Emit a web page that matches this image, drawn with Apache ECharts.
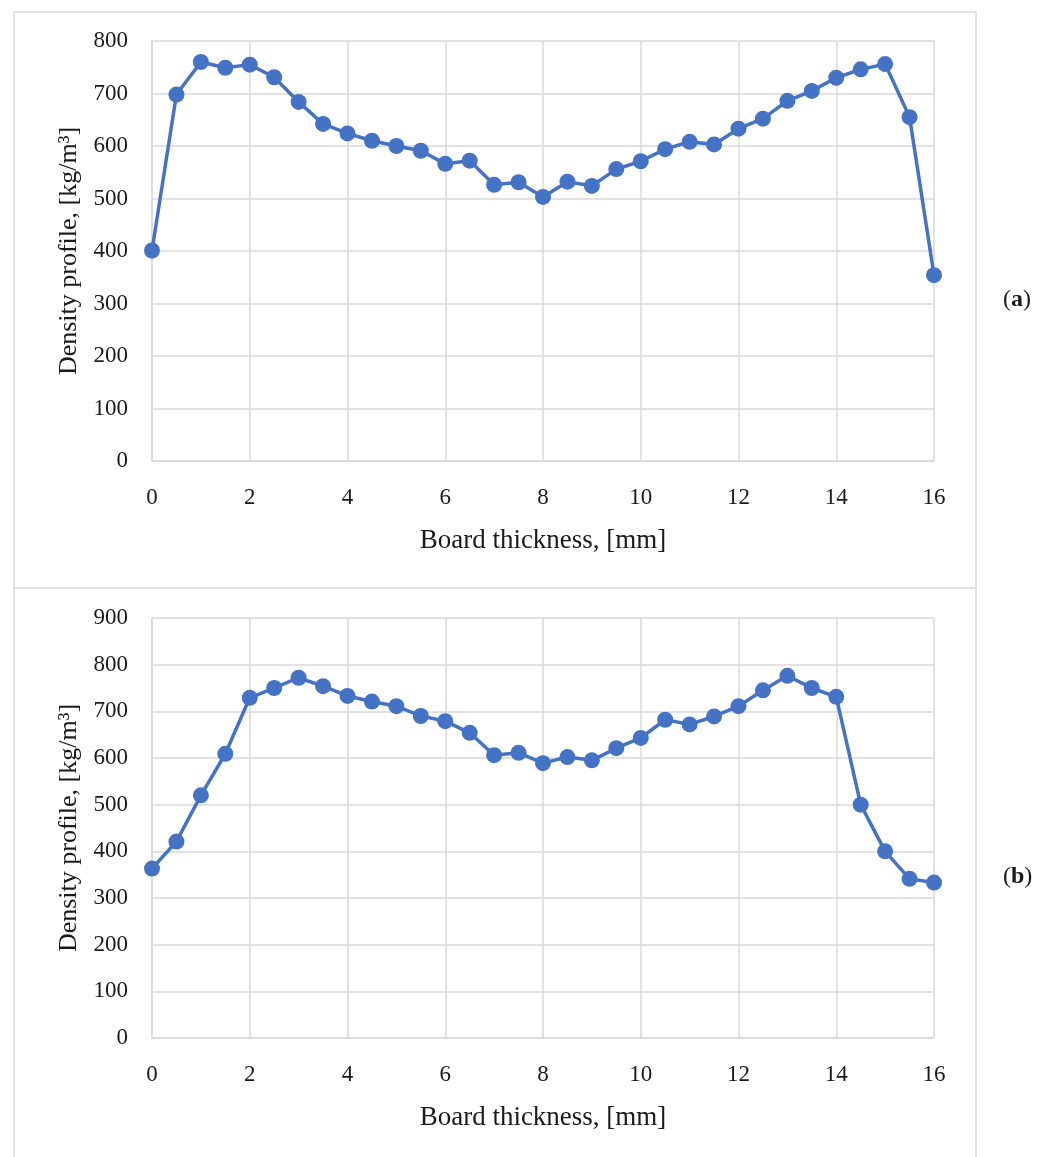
<!DOCTYPE html>
<html>
<head>
<meta charset="utf-8">
<script src="https://cdn.jsdelivr.net/npm/echarts@6/dist/echarts.min.js"></script>
<style>
  html, body { margin: 0; padding: 0; background: #fff; }
  #chart { width: 1051px; height: 1157px; }
</style>
</head>
<body>
<div id="chart"></div>
<script>
// Board thickness positions, mm
const thickness = [0, 0.5, 1, 1.5, 2, 2.5, 3, 3.5, 4, 4.5, 5, 5.5, 6, 6.5, 7, 7.5, 8,
                   8.5, 9, 9.5, 10, 10.5, 11, 11.5, 12, 12.5, 13, 13.5, 14, 14.5, 15, 15.5, 16];
// Density profile, kg/m3 — board (a)
const densityA = [401, 698, 760, 749, 755, 731, 684, 642, 624, 610, 600, 591, 566, 572, 526, 531, 503,
                  532, 524, 556, 571, 594, 608, 603, 633, 652, 686, 705, 730, 746, 756, 655, 354];
// Density profile, kg/m3 — board (b)
const densityB = [363, 421, 520, 609, 729, 750, 772, 754, 733, 721, 711, 690, 679, 654, 606, 611, 589,
                  602, 595, 621, 643, 682, 672, 689, 711, 745, 776, 750, 731, 500, 400, 341, 333];
const panelLabels = ['a', 'b'];
const yMaxA = 800, yMaxB = 900;
const xMax = 16, xStep = 2, yStep = 100;

const FONT = '"Liberation Serif", "Times New Roman", serif';
const GRID_COLOR = '#d9d9d9';
const LINE_COLOR = '#4472C4';
const TEXT_COLOR = '#1a1a1a';

const grids = [
  { left: 152, top: 41, width: 782, height: 420 },
  { left: 152, top: 618, width: 782, height: 420 }
];

function xAxisFor(i) {
  return {
    type: 'value', gridIndex: i, min: 0, max: xMax, interval: xStep,
    name: 'Board thickness, [mm]', nameLocation: 'middle', nameGap: 66,
    nameTextStyle: { fontFamily: FONT, fontSize: 27, color: TEXT_COLOR },
    axisLine: { show: true, lineStyle: { color: GRID_COLOR, width: 1.5 } },
    axisTick: { show: false },
    axisLabel: { fontFamily: FONT, fontSize: 23, color: TEXT_COLOR, margin: 25 },
    splitLine: { show: true, lineStyle: { color: GRID_COLOR, width: 1.5 } }
  };
}
function yAxisFor(i, max) {
  return {
    type: 'value', gridIndex: i, min: 0, max: max, interval: yStep,
    name: 'Density profile, [kg/m³]', nameLocation: 'middle', nameGap: 70,
    nameTextStyle: { fontFamily: FONT, fontSize: 26, color: TEXT_COLOR },
    axisLine: { show: true, lineStyle: { color: GRID_COLOR, width: 1.5 } },
    axisTick: { show: false },
    axisLabel: { fontFamily: FONT, fontSize: 23, color: TEXT_COLOR, margin: 24 },
    splitLine: { show: true, lineStyle: { color: GRID_COLOR, width: 1.5 } }
  };
}
function seriesFor(i, values) {
  return {
    type: 'line', xAxisIndex: i, yAxisIndex: i,
    data: thickness.map((t, k) => [t, values[k]]),
    symbol: 'circle', symbolSize: 16,
    lineStyle: { color: LINE_COLOR, width: 3.5 },
    itemStyle: { color: LINE_COLOR },
    animation: false, z: 3
  };
}

const chart = echarts.init(document.getElementById('chart'), null, { renderer: 'canvas' });
chart.setOption({
  backgroundColor: '#fff',
  animation: false,
  grid: grids,
  xAxis: [xAxisFor(0), xAxisFor(1)],
  yAxis: [yAxisFor(0, yMaxA), yAxisFor(1, yMaxB)],
  series: [seriesFor(0, densityA), seriesFor(1, densityB)],
  graphic: [
    // panel frames
    { type: 'line', shape: { x1: 14, y1: 12, x2: 976, y2: 12 }, style: { stroke: GRID_COLOR, lineWidth: 1.5 } },
    { type: 'line', shape: { x1: 14, y1: 12, x2: 14, y2: 1157 }, style: { stroke: GRID_COLOR, lineWidth: 1.5 } },
    { type: 'line', shape: { x1: 976, y1: 12, x2: 976, y2: 1157 }, style: { stroke: GRID_COLOR, lineWidth: 1.5 } },
    { type: 'line', shape: { x1: 14, y1: 588, x2: 976, y2: 588 }, style: { stroke: GRID_COLOR, lineWidth: 1.5 } },
    // panel letters
    ...panelLabels.map((p, i) => ({
      type: 'text', left: 1003, top: i === 0 ? 288 : 865,
      style: {
        text: '({b|' + p + '})',
        font: '24px ' + FONT, fill: TEXT_COLOR,
        rich: { b: { fontFamily: FONT, fontSize: 24, fontWeight: 'bold', fill: TEXT_COLOR } }
      }
    }))
  ]
});
</script>
</body>
</html>
